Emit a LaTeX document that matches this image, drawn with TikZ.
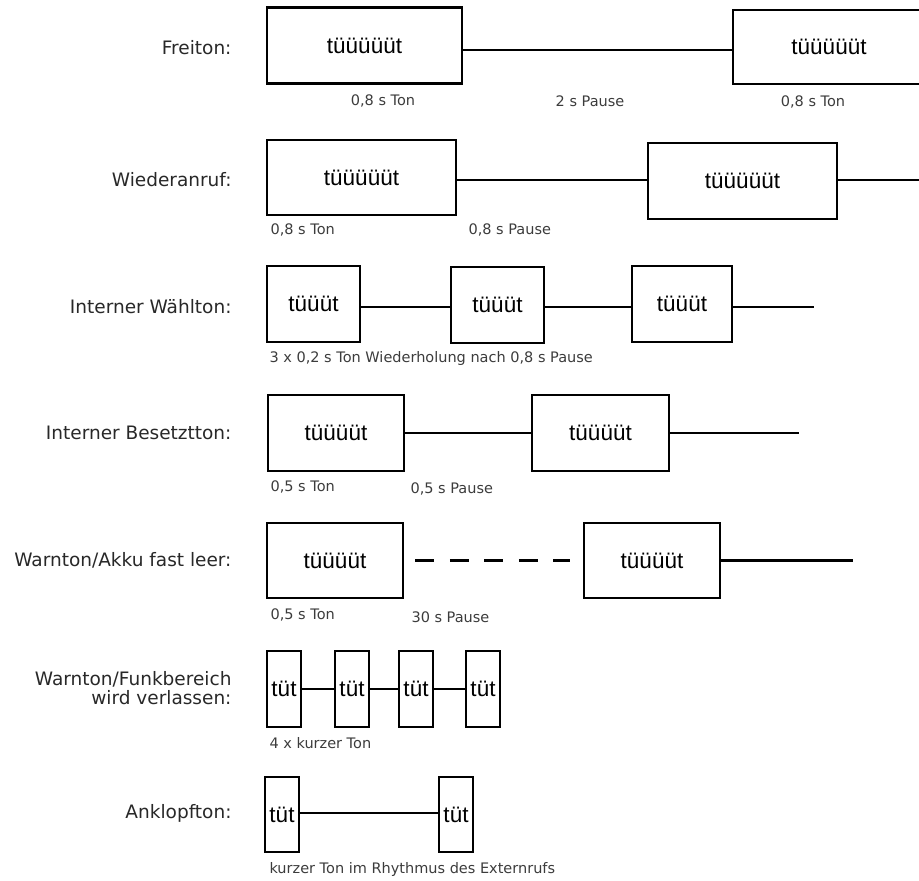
\documentclass[tikz,border=0pt]{standalone}
\usepackage{fontspec}
\setmainfont{Liberation Sans}
\newfontfamily\labelfont{DejaVu Sans}
\usepackage{xcolor}
\usepackage{tikz}
\usetikzlibrary{positioning, calc}
\definecolor{labelgray}{RGB}{40, 40, 40}
\definecolor{notegray}{RGB}{60, 60, 60}

\tikzset{
  tonbox/.style={draw, line width=2.5pt, inner sep=0pt, font=\fontsize{22.5}{24}\selectfont},
  rowlabel/.style={anchor=east, align=right, text=labelgray, font=\labelfont\fontsize{18.5}{19}\selectfont},
  note/.style={anchor=west, text=notegray, font=\labelfont\fontsize{14.5}{15}\selectfont},
  pauseline/.style={line width=2.5pt},
  gapline/.style={line width=2.5pt, dash pattern=on 19pt off 15.5pt}
}

\begin{document}
\begin{tikzpicture}[x=1pt, y=-1pt]
\useasboundingbox (0,0) rectangle (919,881);
% Freiton
\begin{scope}[shift={(0,50)}]
\node[rowlabel] (lf) at (235,-2) {Freiton:};
\node[tonbox, minimum width=195pt, minimum height=76pt] (f1) at (364.5,-4.5) {tüüüüüt};
\node[tonbox, minimum width=192pt, minimum height=74pt] (f2) at (829,-3) {tüüüüüt};
\draw[pauseline] (f1.east |- 0,0) -- (f2.west |- 0,0);
\node[note, anchor=center] (f1n) at (383,51) {0,8 s Ton};
\node[note, anchor=center] (fpn) at (590,51) {2 s Pause};
\node[note, anchor=center] (f2n) at (813,52) {0,8 s Ton};
\end{scope}
% Wiederanruf
\begin{scope}[shift={(0,180)}]
\node[rowlabel] (lw) at (235,0) {Wiederanruf:};
\node[tonbox, minimum width=189pt, minimum height=75pt] (w1) at (361.5,-2.5) {tüüüüüt};
\node[tonbox, minimum width=189pt, minimum height=76pt] (w2) at (742.5,1) {tüüüüüt};
\coordinate (wend) at (925,0);
\draw[pauseline] (w1.east |- 0,0) -- (w2.west |- 0,0);
\draw[pauseline] (w2.east |- 0,0) -- (wend);
\node[note] (w1n) at (267,50) {0,8 s Ton};
\node[note] (wpn) at (465,50) {0,8 s Pause};
\end{scope}
% Interner Waehlton
\begin{scope}[shift={(0,307)}]
\node[rowlabel] (li) at (235,0) {Interner Wählton:};
\node[tonbox, minimum width=93pt, minimum height=76pt] (i1) at (313.5,-3) {tüüüt};
\node[tonbox, minimum width=93pt, minimum height=76pt] (i2) at (497.5,-2) {tüüüt};
\node[tonbox, minimum width=100pt, minimum height=76pt] (i3) at (682,-3) {tüüüt};
\coordinate (iend) at (814,0);
\draw[pauseline] (i1.east |- 0,0) -- (i2.west |- 0,0);
\draw[pauseline] (i2.east |- 0,0) -- (i3.west |- 0,0);
\draw[pauseline] (i3.east |- 0,0) -- (iend);
\node[note] (in) at (266,51) {3 x 0,2 s Ton Wiederholung nach 0,8 s Pause};
\end{scope}
% Interner Besetztton
\begin{scope}[shift={(0,433)}]
\node[rowlabel] (lb) at (235,0) {Interner Besetztton:};
\node[tonbox, minimum width=136pt, minimum height=76pt] (b1) at (336,0) {tüüüüt};
\node[tonbox, minimum width=137pt, minimum height=76pt] (b2) at (600.5,0) {tüüüüt};
\coordinate (bend) at (799,0);
\draw[pauseline] (b1) -- (b2);
\draw[pauseline] (b2) -- (bend);
\node[note] (b1n) at (267,54) {0,5 s Ton};
\node[note] (bpn) at (407,56) {0,5 s Pause};
\end{scope}
% Warnton/Akku fast leer
\begin{scope}[shift={(0,560)}]
\node[rowlabel] (la) at (235,0) {Warnton/Akku fast leer:};
\node[tonbox, minimum width=136pt, minimum height=75pt] (a1) at (335,0.5) {tüüüüt};
\node[tonbox, minimum width=136pt, minimum height=75pt] (a2) at (652,0.5) {tüüüüt};
\coordinate (aend) at (853,0.5);
\draw[gapline] ([xshift=11pt]a1.east) -- ([xshift=-13pt]a2.west);
\draw[pauseline] (a2) -- (aend);
\node[note] (a1n) at (267,55) {0,5 s Ton};
\node[note] (apn) at (408,57) {30 s Pause};
\end{scope}
% Warnton/Funkbereich
\begin{scope}[shift={(0,689)}]
\node[rowlabel] (lk) at (235,-1) {Warnton/Funkbereich\\wird verlassen:};
\node[tonbox, minimum width=34pt, minimum height=76pt] (k1) at (284,0) {tüt};
\node[tonbox, minimum width=34pt, minimum height=76pt] (k2) at (352,0) {tüt};
\node[tonbox, minimum width=34pt, minimum height=76pt] (k3) at (416,0) {tüt};
\node[tonbox, minimum width=34pt, minimum height=76pt] (k4) at (483,0) {tüt};
\draw[pauseline] (k1) -- (k2);
\draw[pauseline] (k2) -- (k3);
\draw[pauseline] (k3) -- (k4);
\node[note] (kn) at (266,54) {4 x kurzer Ton};
\end{scope}
% Anklopfton
\begin{scope}[shift={(0,813)}]
\node[rowlabel] (ln) at (235,0) {Anklopfton:};
\node[tonbox, minimum width=34pt, minimum height=75pt] (n1) at (282,1.5) {tüt};
\node[tonbox, minimum width=34pt, minimum height=75pt] (n2) at (456,1.5) {tüt};
\draw[pauseline] (n1.east |- 0,0) -- (n2.west |- 0,0);
\node[note] (nn) at (266,56) {kurzer Ton im Rhythmus des Externrufs};
\end{scope}
\end{tikzpicture}
\end{document}
